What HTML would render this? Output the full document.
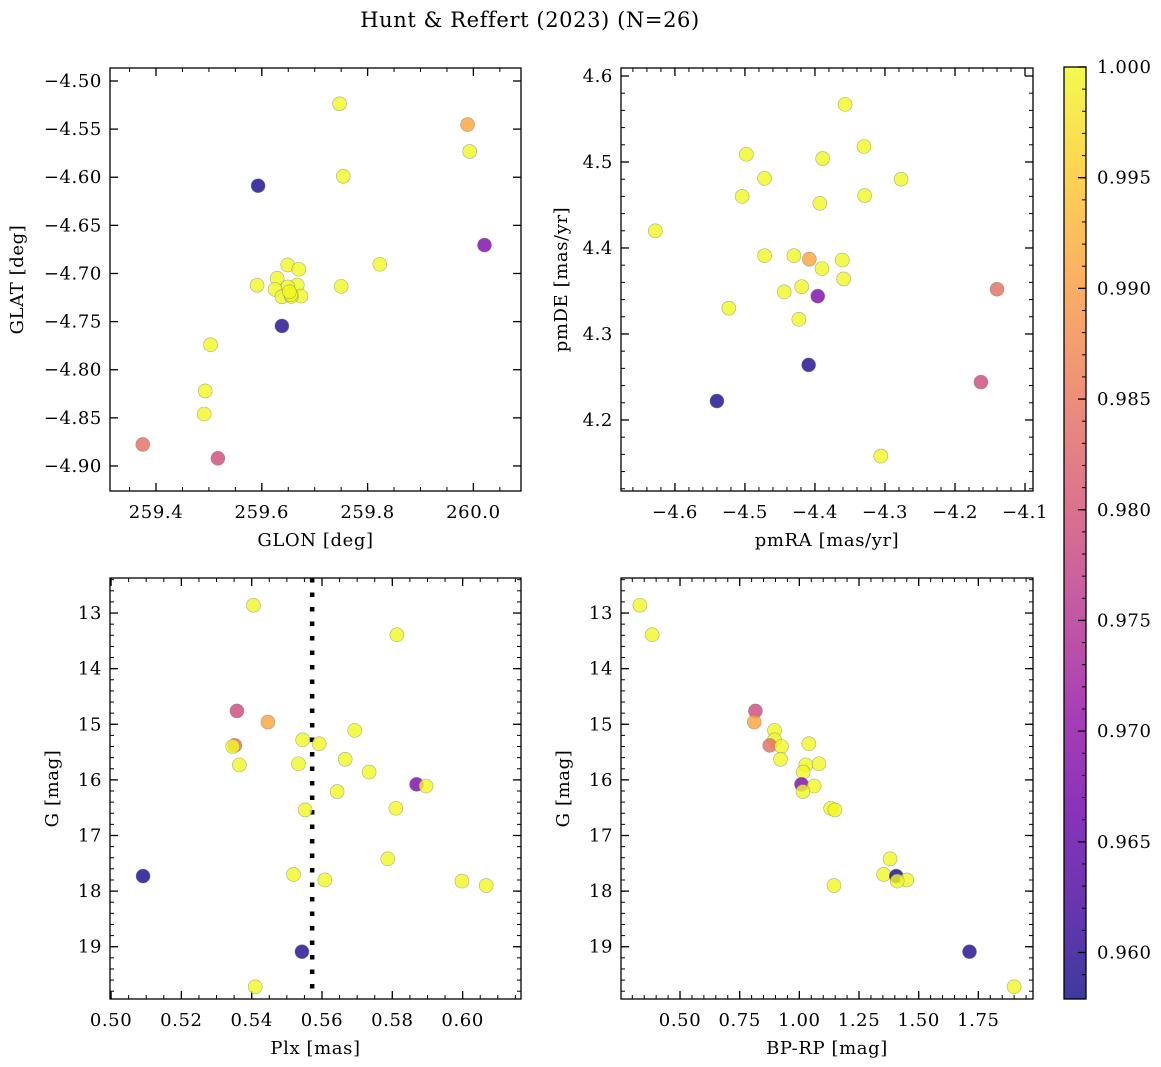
<!DOCTYPE html>
<html><head><meta charset="utf-8"><style>
html,body{margin:0;padding:0;background:#fff;}
svg{display:block;font-family:"DejaVu Serif","Liberation Serif",serif;}
svg text{letter-spacing:0.6px;}
</style></head><body>
<svg id="fig" width="1161" height="1067" viewBox="0 0 1161 1067" xmlns="http://www.w3.org/2000/svg">
<text x="530" y="27" font-size="21" text-anchor="middle">Hunt &amp; Reffert (2023) (N=26)</text>
</svg>
<script>
// ---- data: sky panel ----
const glon = [259.747,259.989,259.993,259.754,259.593,260.021,259.823,259.649,259.670,259.629,259.591,259.750,259.667,259.649,259.625,259.674,259.638,259.656,259.655,259.652,259.638,259.503,259.493,259.491,259.375,259.517];
const glat = [-4.5237,-4.5453,-4.5732,-4.599,-4.6088,-4.6705,-4.6904,-4.6911,-4.6956,-4.705,-4.7123,-4.7134,-4.712,-4.714,-4.7165,-4.7235,-4.7242,-4.7238,-4.722,-4.719,-4.7545,-4.774,-4.822,-4.846,-4.8776,-4.892];
const probSky = [1,0.991,1,1,0.9582,0.968,1,1,1,1,1,1,1,1,1,1,1,1,1,1,0.9590,1,1,1,0.984,0.979];
// ---- data: proper motion panel ----
const pmra = [-4.357,-4.330,-4.498,-4.389,-4.472,-4.277,-4.504,-4.329,-4.393,-4.628,-4.472,-4.430,-4.408,-4.361,-4.390,-4.359,-4.419,-4.444,-4.396,-4.140,-4.523,-4.423,-4.409,-4.163,-4.540,-4.306];
const pmde = [4.567,4.518,4.509,4.504,4.481,4.480,4.460,4.461,4.452,4.420,4.391,4.391,4.387,4.386,4.376,4.364,4.355,4.349,4.344,4.352,4.330,4.317,4.264,4.244,4.222,4.158];
const probPm = [1,1,1,1,1,1,1,1,1,1,1,1,0.991,1,1,1,1,1,0.968,0.984,1,1,0.9590,0.979,0.9582,1];
// ---- data: photometry panels ----
const gmag = [12.86,13.39,14.76,14.96,15.11,15.28,15.35,15.38,15.40,15.63,15.71,15.73,15.86,16.08,16.11,16.21,16.51,16.54,17.42,17.70,17.73,17.80,17.82,17.90,19.09,19.72];
const plx  = [0.5405,0.5813,0.5358,0.5446,0.5693,0.5545,0.5592,0.5352,0.5346,0.5666,0.5533,0.5365,0.5734,0.5869,0.5896,0.5643,0.5810,0.5552,0.5787,0.5519,0.5091,0.5608,0.5998,0.6067,0.5543,0.5410];
const bprp = [0.332,0.383,0.816,0.811,0.896,0.896,1.040,0.876,0.925,0.921,1.082,1.027,1.016,1.009,1.062,1.015,1.131,1.149,1.380,1.353,1.406,1.450,1.410,1.145,1.713,1.900];
const probPh = [1,1,0.979,0.991,1,1,1,0.984,1,1,1,1,1,0.968,1,1,1,1,1,1,0.9582,1,1,1,0.9590,1];
const plxRef = [0.5572];
// ---- tick labels ----
const ticksGlon = [259.4,259.6,259.8,260.0];
const ticksGlat = [-4.50,-4.55,-4.60,-4.65,-4.70,-4.75,-4.80,-4.85,-4.90];
const ticksPmra = [-4.6,-4.5,-4.4,-4.3,-4.2,-4.1];
const ticksPmde = [4.2,4.3,4.4,4.5,4.6];
const ticksG = [13,14,15,16,17,18,19];
const ticksPlx = [0.50,0.52,0.54,0.56,0.58,0.60];
const ticksBprp = [0.50,0.75,1.00,1.25,1.50,1.75];
const ticksCbar = [0.960,0.965,0.970,0.975,0.980,0.985,0.990,0.995,1.000];
const VMIN = 0.9579, VMAX = 1.0;

const NS = "http://www.w3.org/2000/svg";
const svg = document.getElementById('fig');
function mk(tag, attrs, parent){ const e=document.createElementNS(NS,tag); for(const k in attrs) e.setAttribute(k,attrs[k]); (parent||svg).appendChild(e); return e; }
const stops=[[13,8,135],[65,4,157],[106,0,168],[143,13,164],[177,42,144],[204,71,120],[225,100,98],[242,132,75],[252,166,54],[252,206,37],[240,249,33]];
function plasma(t){ t=Math.max(0,Math.min(1,t)); const p=t*10, i=Math.min(9,Math.floor(p)), f=p-i; const a=stops[i], b=stops[i+1]; return 'rgb('+a.map((v,k)=>Math.round(v+(b[k]-v)*f)).join(',')+')'; }
function fmt(v,d){ return (v<0?'\u2212':'')+Math.abs(v).toFixed(d); }
const FS = 18;

function panel(cfg){
  const {x0,y0,x1,y1,xr,yr,invY} = cfg;
  const g = mk('g',{});
  
  
  const sx = v => x0 + (v-xr[0])/(xr[1]-xr[0])*(x1-x0);
  const sy = v => invY ? y0 + (v-yr[0])/(yr[1]-yr[0])*(y1-y0) : y1 - (v-yr[0])/(yr[1]-yr[0])*(y1-y0);
  const mx = cfg.xminor, my = cfg.yminor;
  for(let v=Math.ceil(xr[0]/mx-1e-9)*mx; v<=xr[1]+1e-9; v+=mx){ const X=sx(v); mk('line',{x1:X,y1:y1,x2:X,y2:y1-4,stroke:'#000','stroke-width':1},g); mk('line',{x1:X,y1:y0,x2:X,y2:y0+4,stroke:'#000','stroke-width':1},g); }
  for(let v=Math.ceil(yr[0]/my-1e-9)*my; v<=yr[1]+1e-9; v+=my){ const Y=sy(v); mk('line',{x1:x0,y1:Y,x2:x0+4,y2:Y,stroke:'#000','stroke-width':1},g); mk('line',{x1:x1,y1:Y,x2:x1-4,y2:Y,stroke:'#000','stroke-width':1},g); }
  cfg.xt.forEach(v=>{ const X=sx(v); mk('line',{x1:X,y1:y1,x2:X,y2:y1-8,stroke:'#000','stroke-width':1.3},g); mk('line',{x1:X,y1:y0,x2:X,y2:y0+8,stroke:'#000','stroke-width':1.3},g);
    const t=mk('text',{x:X,y:y1+27,'font-size':FS,'text-anchor':'middle'},g); t.textContent=fmt(v,cfg.xd);
      });
  cfg.yt.forEach(v=>{ const Y=sy(v); mk('line',{x1:x0,y1:Y,x2:x0+8,y2:Y,stroke:'#000','stroke-width':1.3},g); mk('line',{x1:x1,y1:Y,x2:x1-8,y2:Y,stroke:'#000','stroke-width':1.3},g);
    const t=mk('text',{x:x0-8,y:Y+6,'font-size':FS,'text-anchor':'end'},g); t.textContent=fmt(v,cfg.yd);
      });
  if(cfg.vline){ cfg.vline.forEach(v=>{ const l=mk('line',{x1:sx(v),y1:y0,x2:sx(v),y2:y1,stroke:'#000','stroke-width':4.5,'stroke-dasharray':'4.5 10'},g);
      }); }
  cfg.xs.forEach((xv,i)=>{ const c=mk('circle',{cx:sx(xv),cy:sy(cfg.ys[i]),r:7,fill:plasma((cfg.p[i]-VMIN)/(VMAX-VMIN)),'fill-opacity':0.8,stroke:'#777','stroke-opacity':0.6,'stroke-width':0.6},g);
      });
  const fr=mk('rect',{x:x0,y:y0,width:x1-x0,height:y1-y0,fill:'none',stroke:'#000','stroke-width':1.3},g);
   
  const xl=mk('text',{x:(x0+x1)/2,y:y1+55,'font-size':FS,'text-anchor':'middle'},g); xl.textContent=cfg.xlabel;
   
  const yl=mk('text',{x:0,y:0,'font-size':FS,'text-anchor':'middle',transform:'translate('+cfg.ylx+','+(y0+y1)/2+') rotate(-90)'},g); yl.textContent=cfg.ylabel;
   
}

panel({name:'sky-position-panel',x0:110,y0:68,x1:521,y1:491,xr:[259.313,260.090],yr:[-4.4865,-4.926],invY:true,xminor:0.05,yminor:0.01,xt:ticksGlon,yt:ticksGlat,xd:1,yd:2,xs:glon,ys:glat,p:probSky,xlabel:'GLON [deg]',ylabel:'GLAT [deg]',ylx:23});
panel({name:'proper-motion-panel',x0:621,y0:68,x1:1033,y1:491,xr:[-4.677,-4.0886],yr:[4.1174,4.6093],invY:false,xminor:0.02,yminor:0.02,xt:ticksPmra,yt:ticksPmde,xd:1,yd:1,xs:pmra,ys:pmde,p:probPm,xlabel:'pmRA [mas/yr]',ylabel:'pmDE [mas/yr]',ylx:567});
panel({name:'parallax-magnitude-panel',x0:110,y0:578,x1:521,y1:999,xr:[0.4997,0.6166],yr:[12.37,19.94],invY:true,xminor:0.005,yminor:0.2,xt:ticksPlx,yt:ticksG,xd:2,yd:0,xs:plx,ys:gmag,p:probPh,vline:plxRef,xlabel:'Plx [mas]',ylabel:'G [mag]',ylx:58});
panel({name:'color-magnitude-panel',x0:621,y0:578,x1:1033,y1:999,xr:[0.2527,1.979],yr:[12.37,19.94],invY:true,xminor:0.05,yminor:0.2,xt:ticksBprp,yt:ticksG,xd:2,yd:0,xs:bprp,ys:gmag,p:probPh,xlabel:'BP-RP [mag]',ylabel:'G [mag]',ylx:569});

// colorbar
const cb = mk('g',{});


const defs=mk('defs',{},cb);
const lg=mk('linearGradient',{id:'pl',x1:0,y1:1,x2:0,y2:0},defs);
for(let i=0;i<=20;i++){ mk('stop',{offset:i/20,'stop-color':plasma(i/20),'stop-opacity':0.8},lg); }
const CX0=1064,CX1=1086,CY0=67,CY1=999;
mk('rect',{x:CX0,y:CY0,width:CX1-CX0,height:CY1-CY0,fill:'url(#pl)'},cb);
const cy = v => CY1 - (v-VMIN)/(VMAX-VMIN)*(CY1-CY0);
for(let k=959;k<=1000;k++){ const Y=cy(k/1000); mk('line',{x1:CX1,y1:Y,x2:CX1-4,y2:Y,stroke:'#000','stroke-width':1},cb); }
ticksCbar.forEach(v=>{ const Y=cy(v); mk('line',{x1:CX1,y1:Y,x2:CX1-8,y2:Y,stroke:'#000','stroke-width':1.3},cb);
  const t=mk('text',{x:CX1+11,y:Y+6,'font-size':FS},cb); t.textContent=v.toFixed(3);
    });
mk('rect',{x:CX0,y:CY0,width:CX1-CX0,height:CY1-CY0,fill:'none',stroke:'#000','stroke-width':1.3},cb);
</script>
</body></html>
